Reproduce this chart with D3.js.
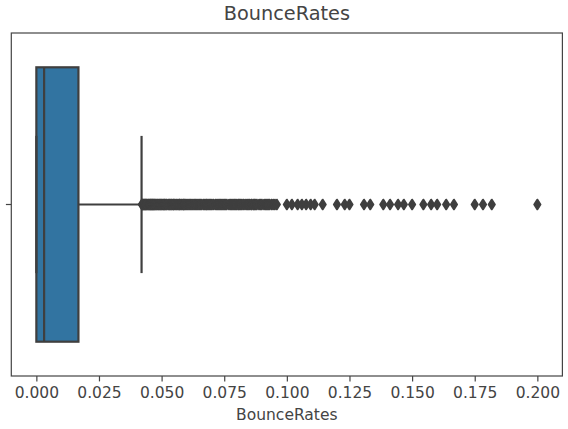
<!DOCTYPE html>
<html>
<head>
<meta charset="utf-8">
<script src="https://cdn.jsdelivr.net/npm/d3@7.9.0/dist/d3.min.js"></script>
<style>
  html, body { margin: 0; padding: 0; background: #fff; }
  svg { display: block; font-family: "DejaVu Sans", sans-serif; }
</style>
</head>
<body>
<svg id="chart" width="568" height="429"></svg>
<script>
// box summary
const boxStats = { whiskerLo: 0, q1: 0, median: 0.0031, q3: 0.0168, whiskerHi: 0.042 };

// outliers (fliers) beyond the upper whisker
const fliers = [
  0.0421, 0.0423, 0.0425, 0.0428, 0.0430, 0.0433, 0.0435, 0.0438, 0.0440, 0.0444,
  0.0447, 0.0450, 0.0453, 0.0455, 0.0458, 0.0460, 0.0463, 0.0465, 0.0468, 0.0470,
  0.0473, 0.0476, 0.0480, 0.0483, 0.0488, 0.0490, 0.0494, 0.0497, 0.0500, 0.0504,
  0.0508, 0.0510, 0.0513, 0.0517, 0.0520, 0.0526, 0.0530, 0.0533, 0.0537, 0.0540,
  0.0545, 0.0548, 0.0550, 0.0556, 0.0560, 0.0565, 0.0570, 0.0571, 0.0576, 0.0580,
  0.0585, 0.0588, 0.0590, 0.0595, 0.0600, 0.0605, 0.0610, 0.0615, 0.0620, 0.0625,
  0.0630, 0.0635, 0.0640, 0.0645, 0.0650, 0.0655, 0.0660, 0.0667, 0.0672, 0.0677,
  0.0680, 0.0685, 0.0690, 0.0695, 0.0700, 0.0706, 0.0714, 0.0720, 0.0725, 0.0730,
  0.0735, 0.0740, 0.0745, 0.0750, 0.0755, 0.0760, 0.0769, 0.0775, 0.0780, 0.0785,
  0.0790, 0.0795, 0.0800, 0.0806, 0.0810, 0.0815, 0.0820, 0.0826, 0.0833, 0.0840,
  0.0845, 0.0850, 0.0857, 0.0860, 0.0867, 0.0870, 0.0875, 0.0880, 0.0889, 0.0895,
  0.0900, 0.0909, 0.0915, 0.0920, 0.0925, 0.0930, 0.0938, 0.0945, 0.0952, 0.0960,
  0.1000, 0.1020, 0.1043, 0.1060, 0.1077, 0.1095, 0.1111, 0.1143,
  0.1200, 0.1231, 0.1250,
  0.1308, 0.1333,
  0.1385, 0.1412, 0.1444,
  0.1467, 0.1500,
  0.1545, 0.1576, 0.1600, 0.1636, 0.1667,
  0.1750, 0.1783, 0.1818,
  0.2000
];

const xTicks = [0, 0.025, 0.05, 0.075, 0.1, 0.125, 0.15, 0.175, 0.2];
const categories = [''];
const xDomain = [-0.01, 0.21];

const W = 568, H = 429;
const mLeft = 11.3, mRight = 562.4, mTop = 33, mBottom = 376;

const boxColor = '#3274a1';
const gray = '#3f3f3f';
const textColor = '#444';

const svg = d3.select('#chart');

const x = d3.scaleLinear().domain(xDomain).range([mLeft, mRight]);
const y = d3.scaleBand().domain(categories).range([mTop, mBottom]).padding(0);

const bw = y.bandwidth();
const cy = y('') + bw / 2;
const boxH = bw * 0.8;
const capH = boxH / 2;

// y tick (no label)
svg.append('line')
  .attr('x1', mLeft - 5.4).attr('x2', mLeft)
  .attr('y1', cy).attr('y2', cy)
  .attr('stroke', '#444').attr('stroke-width', 1.2);

// box
const g = svg.append('g');
g.append('rect')
  .attr('x', x(boxStats.q1))
  .attr('y', cy - boxH / 2)
  .attr('width', x(boxStats.q3) - x(boxStats.q1))
  .attr('height', boxH)
  .attr('fill', boxColor)
  .attr('stroke', gray)
  .attr('stroke-width', 2.2);

// whiskers
g.append('line')
  .attr('x1', x(boxStats.q3)).attr('x2', x(boxStats.whiskerHi))
  .attr('y1', cy).attr('y2', cy)
  .attr('stroke', gray).attr('stroke-width', 2.2);
g.append('line')
  .attr('x1', x(boxStats.whiskerLo)).attr('x2', x(boxStats.q1))
  .attr('y1', cy).attr('y2', cy)
  .attr('stroke', gray).attr('stroke-width', 2.2);

// caps
[boxStats.whiskerLo, boxStats.whiskerHi].forEach(v => {
  g.append('line')
    .attr('x1', x(v)).attr('x2', x(v))
    .attr('y1', cy - capH / 2).attr('y2', cy + capH / 2)
    .attr('stroke', gray).attr('stroke-width', 2.2);
});

// median
g.append('line')
  .attr('x1', x(boxStats.median)).attr('x2', x(boxStats.median))
  .attr('y1', cy - boxH / 2).attr('y2', cy + boxH / 2)
  .attr('stroke', gray).attr('stroke-width', 2.2);

// fliers: thin diamonds
const mh = 9.4, mw = 6;
g.selectAll('path.flier')
  .data(fliers)
  .join('path')
  .attr('class', 'flier')
  .attr('d', `M0,${-mh / 2}L${mw / 2},0L0,${mh / 2}L${-mw / 2},0Z`)
  .attr('transform', d => `translate(${x(d)},${cy})`)
  .attr('fill', gray)
  .attr('stroke', gray)
  .attr('stroke-width', 2.2)
  .attr('stroke-linejoin', 'round');

// frame
svg.append('rect')
  .attr('x', mLeft).attr('y', mTop)
  .attr('width', mRight - mLeft).attr('height', mBottom - mTop)
  .attr('fill', 'none')
  .attr('stroke', '#444')
  .attr('stroke-width', 1.2);

// x axis
const xAxis = d3.axisBottom(x)
  .tickValues(xTicks)
  .tickFormat(d3.format('.3f'))
  .tickSize(5.4)
  .tickPadding(5.4);

const ax = svg.append('g')
  .attr('transform', `translate(0,${mBottom})`)
  .call(xAxis);
ax.select('.domain').remove();
ax.selectAll('.tick line').attr('stroke', '#444').attr('stroke-width', 1.2);
ax.selectAll('.tick text')
  .attr('fill', textColor)
  .style('font-family', '"DejaVu Sans", sans-serif')
  .style('font-size', '15.5px');

// x label
svg.append('text')
  .attr('x', (mLeft + mRight) / 2)
  .attr('y', 420)
  .attr('text-anchor', 'middle')
  .attr('fill', textColor)
  .style('font-size', '15.5px')
  .text('BounceRates');

// title
svg.append('text')
  .attr('x', (mLeft + mRight) / 2)
  .attr('y', 20)
  .attr('text-anchor', 'middle')
  .attr('fill', textColor)
  .style('font-size', '19.3px')
  .text('BounceRates');
</script>
</body>
</html>
